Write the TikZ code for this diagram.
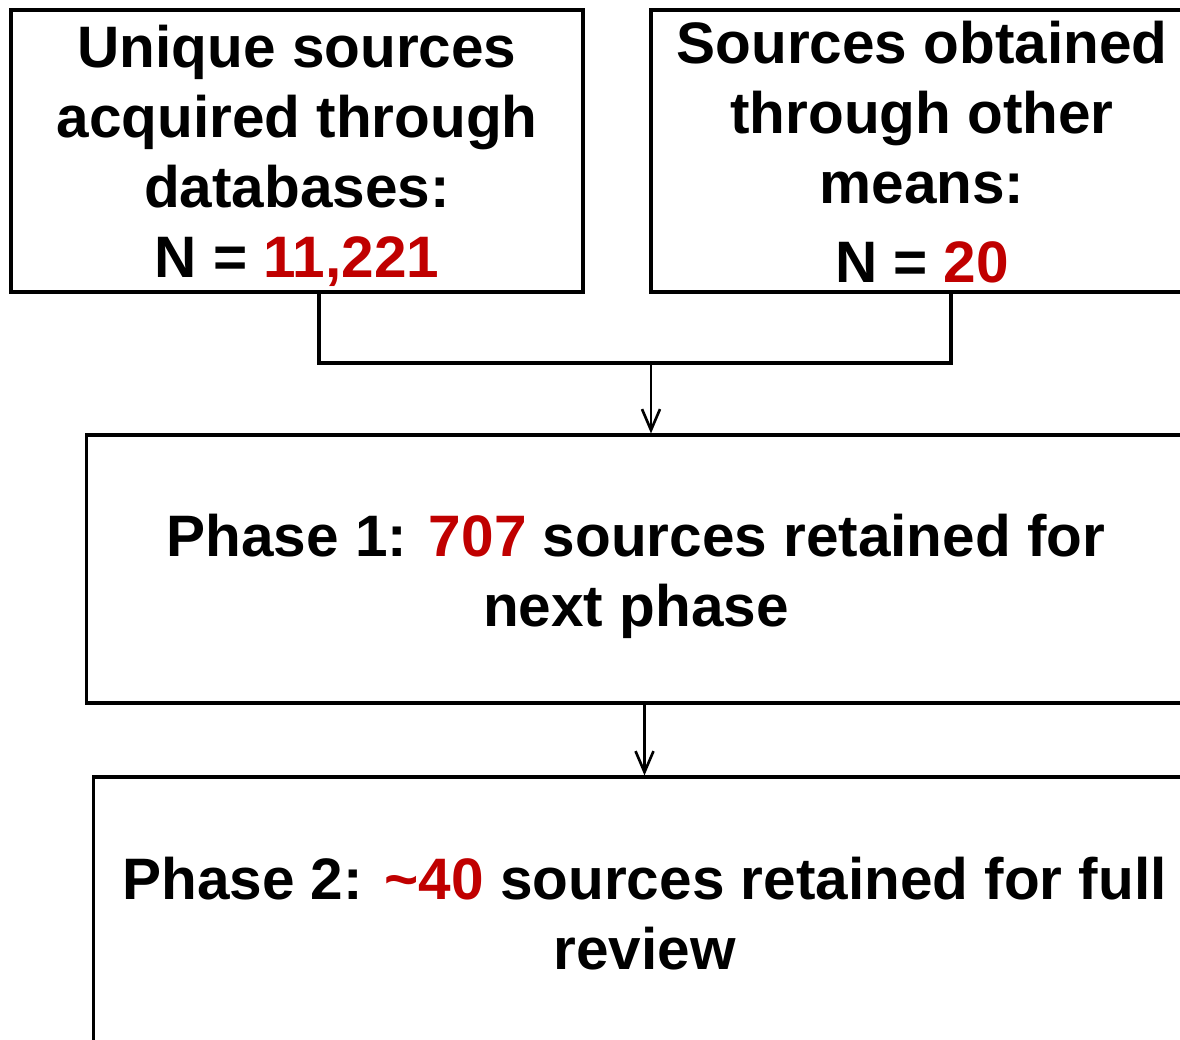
\documentclass[tikz,border=0pt]{standalone}
\usepackage{fontspec}
\setmainfont{Liberation Sans}
\usetikzlibrary{arrows.meta,calc}
\definecolor{numred}{HTML}{C00000}
\newcommand{\num}[1]{\textcolor{numred}{#1}}
\tikzset{
    box/.style={draw, line width=1.8pt, rectangle, align=center, inner sep=0pt,
        font=\fontsize{33.3}{39.8}\selectfont\bfseries},
    link/.style={line width=2.2pt},
    flow/.style={line width=1.5pt, -{Straight Barb[length=0.42cm,width=0.36cm,line width=1.5pt]}}
}
\begin{document}
\begin{tikzpicture}[x=0.02cm, y=-0.02cm]
                            \useasboundingbox (0,0) rectangle (1180,1040);
                            \clip (0,0) rectangle (1180,1040);
                            \node (db) at (297,151) [box, minimum width=11.44cm, minimum height=5.64cm] {\rule{0pt}{1.05cm}Unique sources\\acquired through\\databases:\\N = \num{11,221}};
                            \node (other) at (922,151) [box, minimum width=10.84cm, minimum height=5.64cm] {\rule{0pt}{0.9cm}Sources obtained\\through other\\means:\\[0.18cm]N = \num{20}};
                            \node (phaseone) at (636,569) [box, minimum width=22cm, minimum height=5.36cm] {\rule{0pt}{1.13cm}Phase 1: \num{707} sources retained for\\next phase};
                            \node (phasetwo) at (644.5,914) [box, minimum width=22.06cm, minimum height=5.48cm] {Phase 2: \num{\textasciitilde40} sources retained for full\\review};
                            \coordinate (join) at (651,363);
                            \draw[link] ([xshift=0.44cm]db.south) |- (join) -| ([xshift=0.58cm]other.south);
                            \draw[flow] (join) -- (join |- phaseone.north);
                            \draw[flow] (phasetwo.north |- phaseone.south) -- (phasetwo.north);
                        \end{tikzpicture}
\end{document}
